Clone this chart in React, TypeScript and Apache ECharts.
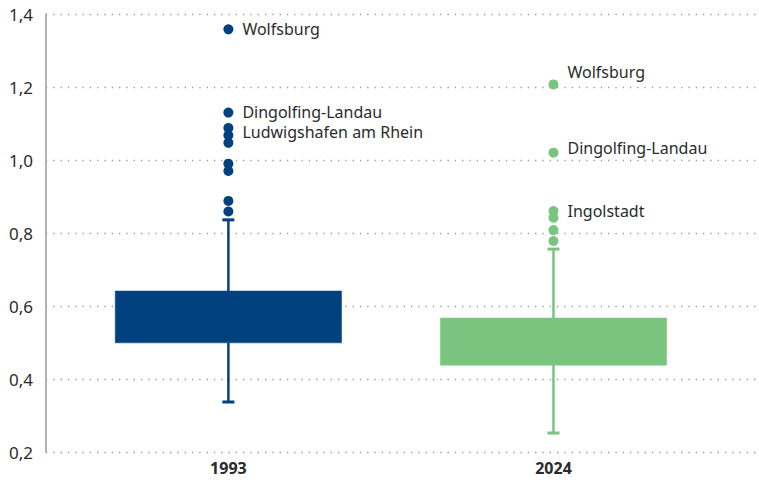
import React, { useEffect, useRef } from "react";
import * as echarts from "echarts";

const categories = ["1993", "2024"];
// [min, Q1, median, Q3, max]
const boxStats = [
  [0.337, 0.499, 0.56, 0.641, 0.836],
  [0.252, 0.438, 0.49, 0.567, 0.756],
];
const outliers1993 = [1.358, 1.13, 1.088, 1.068, 1.047, 0.99, 0.97, 0.888, 0.859];
const outlierNames1993 = ["Wolfsburg", "Dingolfing-Landau", "Ludwigshafen am Rhein", "", "", "", "", "", ""];
const outliers2024 = [1.207, 1.02, 0.86, 0.842, 0.808, 0.778];
const outlierNames2024 = ["Wolfsburg", "Dingolfing-Landau", "Ingolstadt", "", "", ""];

const COLORS = ["#02417f", "#7ac47f"];
const TEXT = "#2b2b2b";
const FONT = "'Noto Sans', sans-serif";
const labelOffsets1993: number[][] = [[0, 0], [0, -1], [0, 4]];
const labelOffsets2024: number[][] = [[0, -12], [0, -5], [0, 0]];

export default function App() {
  const ref = useRef<HTMLDivElement>(null);
  useEffect(() => {
    if (!ref.current) return;
    const chart = echarts.init(ref.current, undefined, { renderer: "svg" });
    const boxData = boxStats.map((s, i) => [i, ...s]);
    const mkScatter = (idx: number, vals: number[], names: string[], offs: number[][]) =>
      vals.map((v, j) => ({
        value: [idx, v],
        label: {
          show: !!names[j],
          formatter: names[j] || "",
          position: "right",
          distance: 9,
          offset: offs[j] || [0, 0],
          color: TEXT,
          fontSize: 16,
          lineHeight: 17,
          fontFamily: FONT,
        },
      }));
    chart.setOption({
      animation: false,
      grid: { left: 46, right: 2, top: 14, bottom: 30 },
      xAxis: {
        type: "value",
        min: -0.561,
        max: 1.626,
        splitLine: { show: false },
        axisLine: { show: false },
        axisTick: { show: false },
        axisLabel: {
          customValues: [0, 1],
          formatter: (v: number) => categories[Math.round(v)] ?? "",
          color: TEXT,
          fontWeight: "bold",
          fontSize: 16,
          fontFamily: FONT,
          margin: 8,
        },
      },
      yAxis: {
        type: "value",
        min: 0.2,
        max: 1.4,
        interval: 0.2,
        axisLine: { show: true, onZero: false, lineStyle: { color: "#b4b4b4", width: 2 } },
        axisTick: { show: false },
        splitLine: { show: true, lineStyle: { color: "#9a9a9a", width: 1.3, type: [1.3, 6] } },
        axisLabel: {
          formatter: (v: number) => v.toFixed(1).replace(".", ","),
          color: TEXT,
          fontSize: 17,
          fontFamily: FONT,
          margin: 13,
        },
      },
      series: [
        {
          type: "custom",
          data: boxData,
          encode: { x: 0, y: [1, 2, 3, 4, 5] },
          z: 2,
          renderItem: (params: any, api: any) => {
            const x = api.value(0);
            const lo = api.coord([x, api.value(1)]);
            const q1 = api.coord([x, api.value(2)]);
            const q3 = api.coord([x, api.value(4)]);
            const hi = api.coord([x, api.value(5)]);
            const halfW = api.size([0.696, 0])[0] / 2;
            const color = COLORS[params.dataIndex];
            const cap = 6;
            return {
              type: "group",
              children: [
                { type: "line", shape: { x1: hi[0], y1: hi[1], x2: q3[0], y2: q3[1] }, style: { stroke: color, lineWidth: 2.5 } },
                { type: "line", shape: { x1: q1[0], y1: q1[1], x2: lo[0], y2: lo[1] }, style: { stroke: color, lineWidth: 2.5 } },
                { type: "line", shape: { x1: hi[0] - cap, y1: hi[1], x2: hi[0] + cap, y2: hi[1] }, style: { stroke: color, lineWidth: 3 } },
                { type: "line", shape: { x1: lo[0] - cap, y1: lo[1], x2: lo[0] + cap, y2: lo[1] }, style: { stroke: color, lineWidth: 3 } },
                {
                  type: "rect",
                  shape: { x: q3[0] - halfW, y: q3[1], width: halfW * 2, height: q1[1] - q3[1] },
                  style: { fill: color, stroke: color, lineWidth: 0.5 },
                },
              ],
            };
          },
        },
        {
          type: "scatter",
          symbolSize: 10,
          itemStyle: { color: COLORS[0], opacity: 1 },
          data: mkScatter(0, outliers1993, outlierNames1993, labelOffsets1993),
          z: 3,
        },
        {
          type: "scatter",
          symbolSize: 10,
          itemStyle: { color: COLORS[1], opacity: 1 },
          data: mkScatter(1, outliers2024, outlierNames2024, labelOffsets2024),
          z: 3,
        },
      ],
    });
    return () => chart.dispose();
  }, []);
  return <div ref={ref} style={{ position: "absolute", left: 0, top: 0, width: 759, height: 482 }} />;
}
